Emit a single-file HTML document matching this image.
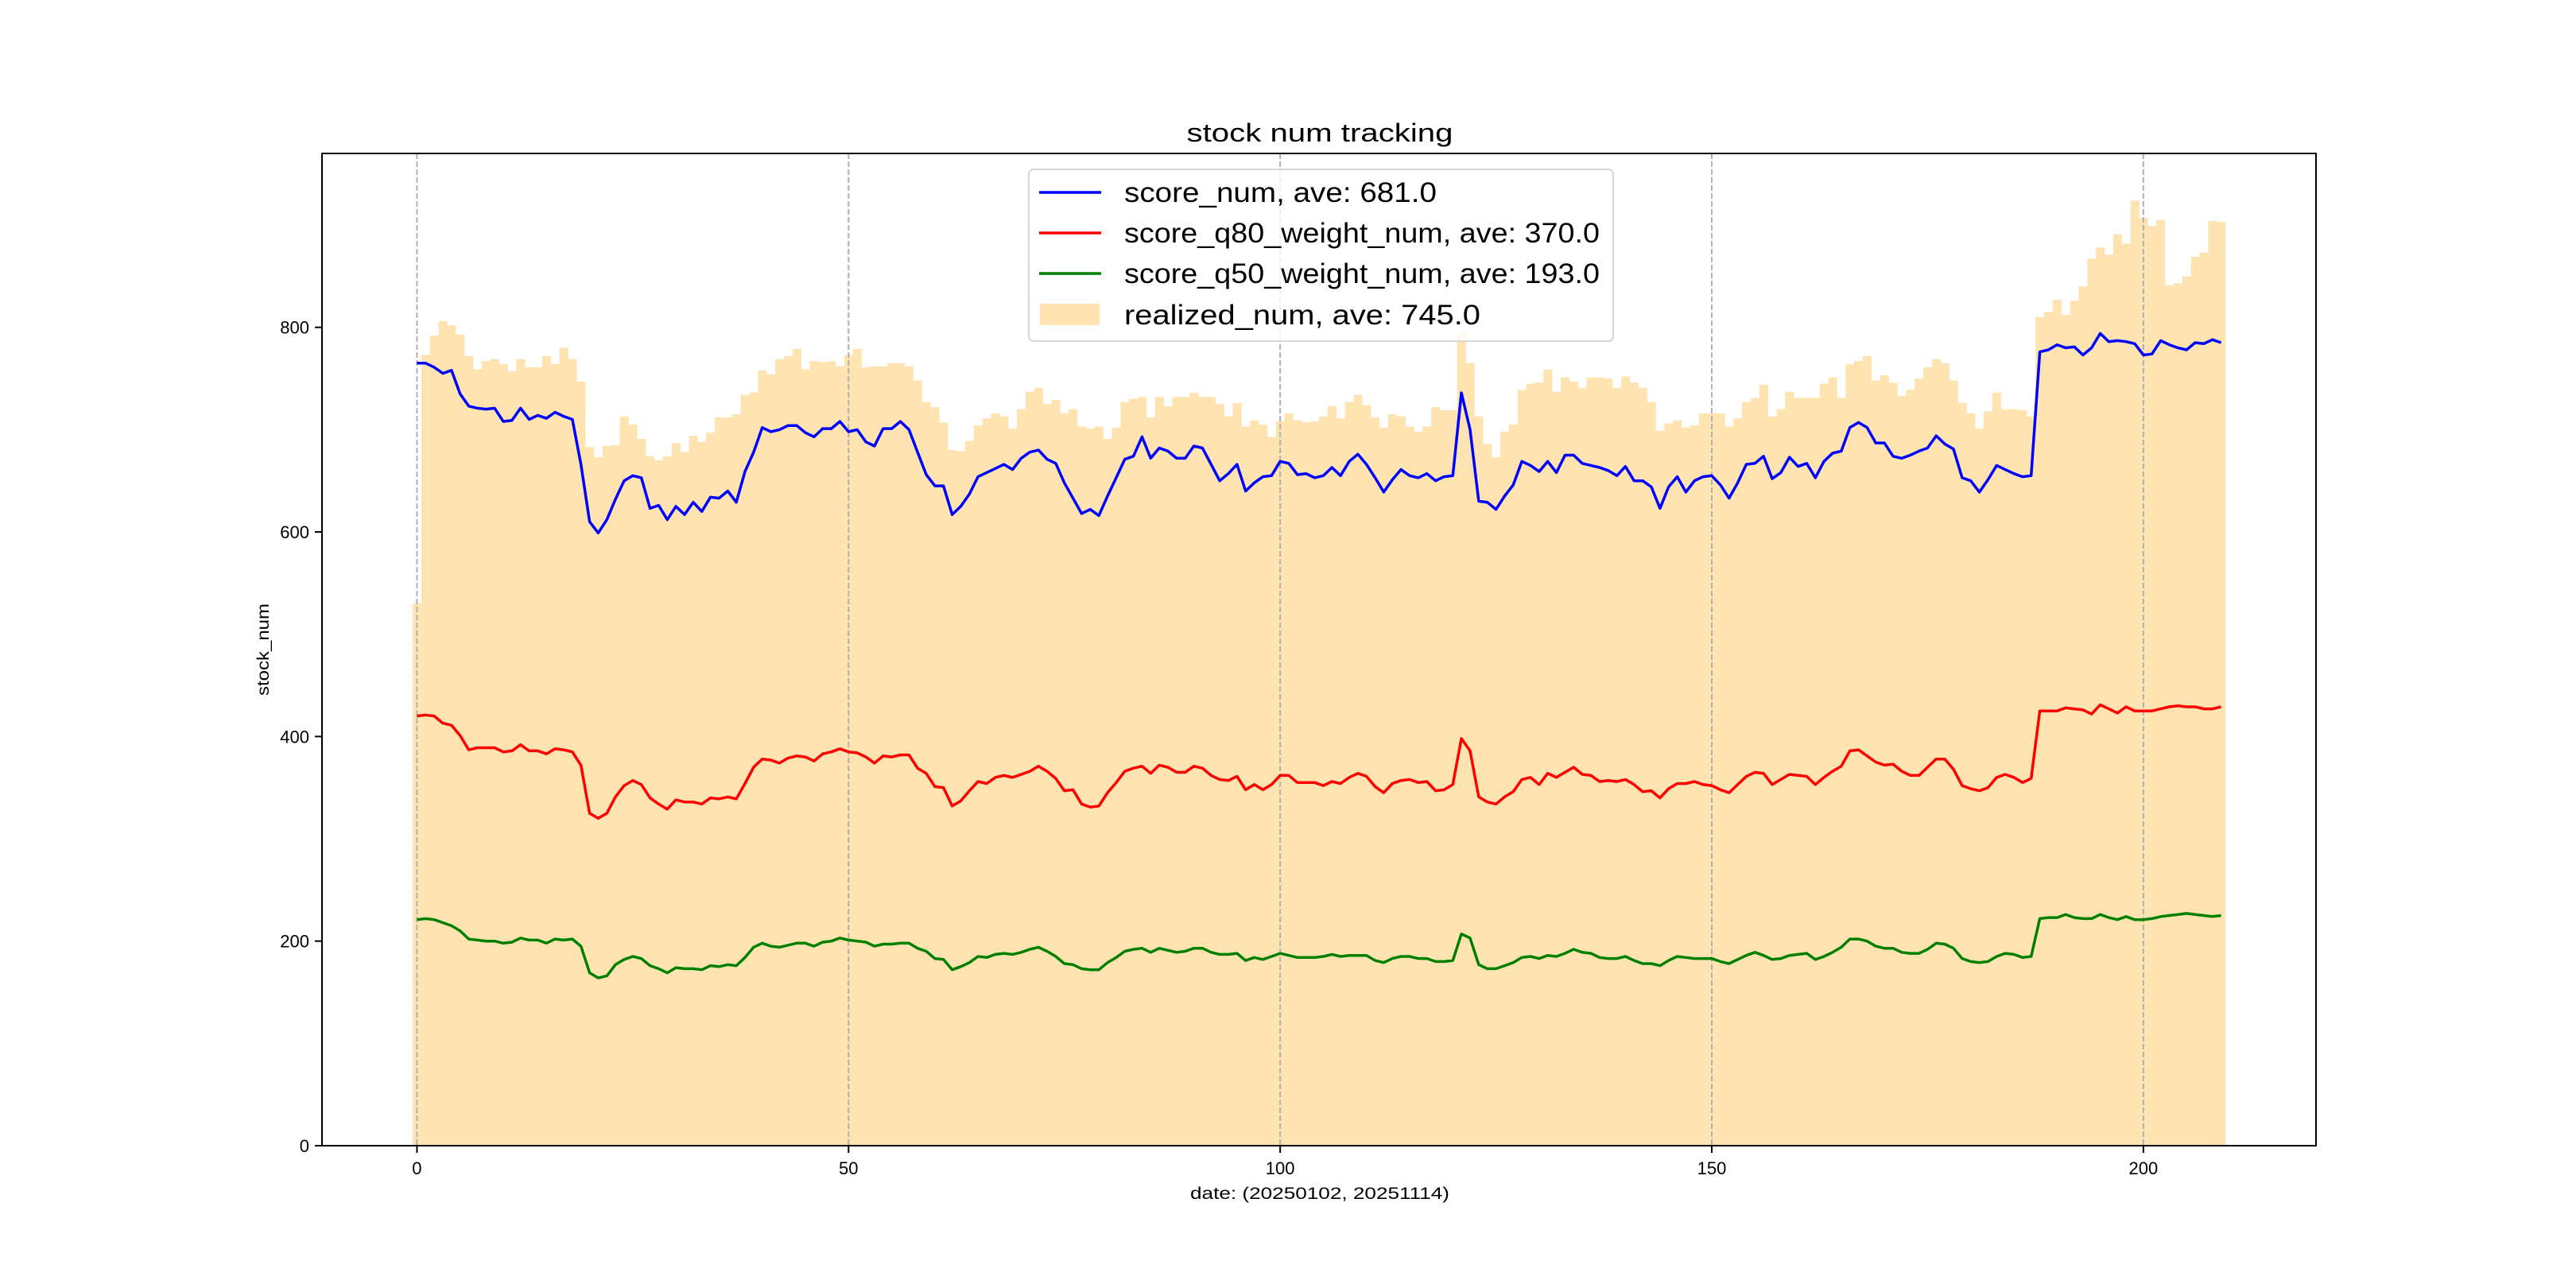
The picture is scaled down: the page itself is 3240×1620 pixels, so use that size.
<!DOCTYPE html>
<html><head><meta charset="utf-8"><style>
html,body{margin:0;padding:0;background:#fff;}
svg{display:block;font-family:"Liberation Sans","Noto Sans CJK SC",sans-serif;}
</style></head><body>
<svg id="chart" width="3240" height="1620" viewBox="0 0 3240 1620" xmlns="http://www.w3.org/2000/svg">
<rect x="0" y="0" width="3240" height="1620" fill="#fff"/>
<g id="bars"></g>
<g id="grid"></g>
<g id="lines"></g>
<rect x="405" y="193" width="2508" height="1248" fill="none" stroke="#000" stroke-width="2"/>
<g id="ticks"></g>
<text x="1660" y="178" text-anchor="middle" font-size="32" textLength="335" lengthAdjust="spacingAndGlyphs">stock num tracking</text>
<text x="1660" y="1508" text-anchor="middle" font-size="21" textLength="326" lengthAdjust="spacingAndGlyphs">date: (20250102, 20251114)</text>
<text transform="translate(338,817) rotate(-90)" text-anchor="middle" font-size="21" textLength="116" lengthAdjust="spacingAndGlyphs">stock_num</text>
<g>
<rect x="1294" y="213" width="735" height="216" rx="6" fill="#fff" fill-opacity="0.8" stroke="#d6d6d6" stroke-width="2"/>
<line x1="1307" y1="242" x2="1385" y2="242" stroke="#0000ff" stroke-width="3.5"/>
<text x="1414" y="254" font-size="35" textLength="393" lengthAdjust="spacingAndGlyphs">score_num, ave: 681.0</text>
<line x1="1307" y1="293" x2="1385" y2="293" stroke="#ff0000" stroke-width="3.5"/>
<text x="1414" y="305" font-size="35" textLength="598" lengthAdjust="spacingAndGlyphs">score_q80_weight_num, ave: 370.0</text>
<line x1="1307" y1="344" x2="1385" y2="344" stroke="#008000" stroke-width="3.5"/>
<text x="1414" y="356" font-size="35" textLength="598" lengthAdjust="spacingAndGlyphs">score_q50_weight_num, ave: 193.0</text>
<rect x="1308" y="382" width="75" height="27" fill="#ffe4b2"/>
<text x="1414" y="408" font-size="35" textLength="448" lengthAdjust="spacingAndGlyphs">realized_num, ave: 745.0</text>
</g>
</svg>
<script>
const realized = [530,773,792,806,802,793,772,759,767,769,764,757,769,761,761,772,764,780,769,747,683,673,684,685,713,705,691,674,670,674,687,678,694,688,697,712,712,715,734,736,758,754,769,772,779,759,767,766,767,762,773,779,761,762,762,765,765,762,748,727,722,707,680,679,689,704,711,716,713,701,720,737,741,725,729,716,720,703,701,703,691,702,727,730,732,712,732,723,732,732,736,732,732,725,713,726,703,709,705,693,708,716,709,707,708,713,723,711,727,734,724,712,702,715,713,703,698,703,722,719,719,796,765,713,686,673,698,705,739,745,746,759,737,751,747,741,751,751,750,741,752,746,741,727,699,706,709,702,704,716,716,716,703,711,727,731,744,713,720,737,731,731,731,745,751,731,764,767,772,748,753,746,733,739,750,761,769,765,748,726,716,701,718,736,720,720,719,713,810,815,827,812,826,840,867,878,871,891,882,924,907,899,905,841,843,850,869,873,904,903];
const scoreNum = [765,765,761,755,758,735,723,721,720,721,708,709,721,710,714,711,717,713,710,666,610,599,612,632,650,655,653,623,626,612,625,617,629,620,634,633,640,629,659,678,702,698,700,704,704,697,693,701,701,708,698,700,688,684,701,701,708,700,678,656,645,645,617,625,637,654,658,662,666,661,672,678,680,671,667,648,633,618,622,616,635,653,671,674,693,672,682,679,672,672,684,682,666,650,657,666,640,648,654,655,669,667,656,657,653,655,663,655,669,676,666,653,639,651,661,655,653,657,650,654,655,736,700,630,629,622,635,646,669,665,659,669,658,675,675,667,665,663,660,655,664,650,650,644,623,644,654,639,650,654,655,646,633,648,666,667,674,652,658,673,664,667,653,669,677,679,702,707,702,687,687,674,672,675,679,682,694,686,681,653,650,639,651,665,661,657,654,655,776,778,783,780,781,773,780,794,786,787,786,784,773,774,787,783,780,778,785,784,788,785];
const q80Num = [420,421,420,413,411,401,387,389,389,389,385,386,392,386,386,383,388,387,385,372,325,320,325,341,352,357,353,340,334,329,338,336,336,334,340,339,341,339,354,370,378,377,374,379,381,380,376,383,385,388,385,384,380,374,381,380,382,382,369,364,351,350,332,337,347,356,354,360,362,360,363,366,371,366,359,347,348,334,331,332,345,355,366,369,371,364,372,370,365,365,371,369,362,358,357,361,348,353,348,353,362,362,355,355,355,352,356,354,360,364,361,351,345,354,357,358,355,356,347,348,353,398,386,341,336,334,341,346,358,360,353,364,360,365,370,363,362,356,357,356,358,353,346,347,340,349,354,354,356,353,352,348,345,353,361,365,364,353,358,363,362,361,353,360,366,371,386,387,381,375,372,373,366,362,362,370,378,378,368,352,349,347,350,360,363,360,355,359,425,425,425,428,427,426,422,431,427,423,429,425,425,425,427,429,430,429,429,427,427,429];
const q50Num = [221,222,221,218,215,210,202,201,200,200,198,199,203,201,201,198,202,201,202,195,169,164,166,177,182,185,183,176,173,169,174,173,173,172,176,175,177,176,184,194,198,195,194,196,198,198,195,199,200,203,201,200,199,195,197,197,198,198,193,190,183,182,172,175,179,185,184,187,188,187,189,192,194,190,185,178,177,173,172,172,179,184,190,192,193,189,193,191,189,190,193,193,189,187,187,188,181,184,182,185,188,186,184,184,184,185,187,185,186,186,186,181,179,183,185,185,183,183,180,180,181,207,203,177,173,173,176,179,184,185,183,186,185,188,192,189,188,184,183,183,185,181,178,178,176,181,185,184,183,183,183,180,178,182,186,189,186,182,183,186,187,188,182,185,189,194,202,202,200,195,193,193,189,188,188,192,198,197,193,183,180,179,180,185,188,187,184,185,222,223,223,226,223,222,222,226,223,221,224,221,221,222,224,225,226,227,226,225,224,225];
const xTicks = [0,50,100,150,200];
const yTicks = [0,200,400,600,800];

const NS = "http://www.w3.org/2000/svg";
const XMIN = -11, XMAX = 220, YMAX = 970;
const L = 405, R = 2913, T = 193, B = 1441;
function xs(v){ return L + (v - XMIN) / (XMAX - XMIN) * (R - L); }
function ys(v){ return B - v / YMAX * (B - T); }
function mk(tag, attrs){ const e = document.createElementNS(NS, tag); for (const k in attrs) e.setAttribute(k, attrs[k]); return e; }

const barsG = document.getElementById('bars');
realized.forEach((v, i) => {
  const x0 = xs(i - 0.5), x1 = xs(i + 0.5);
  const r = mk('rect', {x: x0, y: ys(v), width: x1 - x0 + 0.3, height: ys(0) - ys(v), fill: '#ffe4b2'});
  
  
  barsG.appendChild(r);
});

const gridG = document.getElementById('grid');
const ticksG = document.getElementById('ticks');
xTicks.forEach(t => {
  const gl = mk('line', {x1: xs(t), x2: xs(t), y1: T, y2: B, stroke: '#b0b0b0', 'stroke-width': 2, 'stroke-dasharray': '7,3'});
  
  
  gridG.appendChild(gl);
  const tk = mk('line', {x1: xs(t), x2: xs(t), y1: B, y2: B + 9, stroke: '#000', 'stroke-width': 2});
  
  
  ticksG.appendChild(tk);
  const tx = mk('text', {x: xs(t), y: B + 36, 'text-anchor': 'middle', 'font-size': 22});
  tx.textContent = String(t);
  
  
  ticksG.appendChild(tx);
});
yTicks.forEach(t => {
  const tk = mk('line', {x1: L - 9, x2: L, y1: ys(t), y2: ys(t), stroke: '#000', 'stroke-width': 2});
  
  
  ticksG.appendChild(tk);
  const tx = mk('text', {x: L - 16, y: ys(t) + 8, 'text-anchor': 'end', 'font-size': 22});
  tx.textContent = String(t);
  
  
  ticksG.appendChild(tx);
});

const linesG = document.getElementById('lines');
function drawLine(arr, color, name){
  const pts = arr.map((v, i) => xs(i).toFixed(1) + ',' + ys(v).toFixed(1)).join(' ');
  const p = mk('polyline', {points: pts, fill: 'none', stroke: color, 'stroke-width': 3.5, 'stroke-linejoin': 'round'});
  
  
  linesG.appendChild(p);
}
drawLine(scoreNum, '#0000ff', 'score-num-line');
drawLine(q80Num, '#ff0000', 'score-q80-line');
drawLine(q50Num, '#008000', 'score-q50-line');
</script>
</body></html>
